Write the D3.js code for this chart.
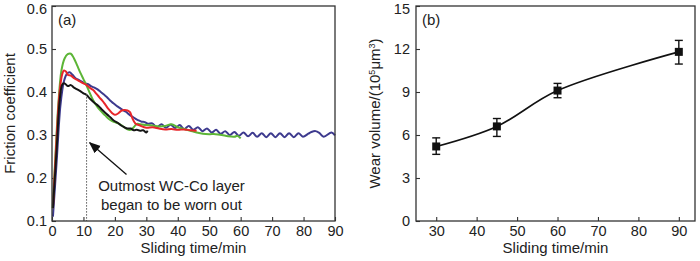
<!DOCTYPE html>
<html>
<head>
<meta charset="utf-8">
<script src="https://cdn.jsdelivr.net/npm/d3@7"></script>
<style>
  html, body { margin: 0; padding: 0; background: #fff; }
  svg { display: block; font-family: "Liberation Sans", Arial, sans-serif; }
</style>
</head>
<body>
<svg id="chart" width="700" height="261"></svg>
<script>
// ---------- Panel (a): friction coefficient vs sliding time ----------
const blackT = [0.3,1.5,2.5,3.3,4,5,6,7,8,9,10,11,12,13,14,15,16,17,18,19,20,21,22,23,24,25,26,27,28,29,30,30.4];
const blackV = [0.13,0.27,0.385,0.418,0.42,0.414,0.416,0.41,0.406,0.402,0.397,0.393,0.385,0.378,0.372,0.366,0.358,0.351,0.345,0.338,0.332,0.328,0.322,0.318,0.315,0.315,0.311,0.312,0.31,0.311,0.306,0.31];

const redT = [0.3,1.3,2.3,3.2,3.8,4.5,5,6,7,8,9,10,11,12,13,14,15,16,17,18,19,20,21,22,23,24,24.8,25.5,26.5,28,30,32,34,36,38,40,42,44,46];
const redV = [0.13,0.27,0.39,0.44,0.45,0.447,0.44,0.438,0.432,0.428,0.424,0.42,0.416,0.41,0.405,0.397,0.388,0.38,0.37,0.36,0.352,0.347,0.35,0.356,0.358,0.357,0.353,0.34,0.327,0.322,0.317,0.318,0.315,0.313,0.314,0.312,0.313,0.311,0.31];

const greenT = [0.2,1,2,3,4,5,6,7,8,9,10,11,12,13,14,15,16,17,18,19,20,21,22,23,24,25,26,27,28,30,32,34,36,38,40,42,44,46,48,50,52,54,56,58,59,60];
const greenV = [0.13,0.24,0.37,0.45,0.478,0.488,0.489,0.478,0.462,0.445,0.43,0.415,0.398,0.382,0.37,0.36,0.352,0.345,0.338,0.333,0.33,0.327,0.323,0.318,0.313,0.312,0.318,0.326,0.325,0.323,0.322,0.32,0.321,0.325,0.318,0.314,0.31,0.306,0.303,0.302,0.302,0.3,0.297,0.296,0.298,0.292];

const blueT = [0.3,1.5,2.7,3.8,4.8,5.6,6.5,7.5,8.5,9.5,10.5,11.5,12.5,13.5,14.5,15.5,16.5,17.5,18.5,19.5,20.5,21.5,22.5,23.5,24.5,25.5,26.5,27.5,28.5,29.5,30.5,
  31.9,33.35,34.8,36.25,37.7,39.15,40.6,42.05,43.5,44.95,46.4,47.85,49.3,50.75,52.2,53.65,55.1,56.55,58,59.45,60.9,62.35,63.8,65.25,66.7,68.15,69.6,71.05,72.5,73.95,75.4,76.9,78.4,79.8,81.5,82.5,83.8,85,86.4,88.9,90];
const blueV = [0.11,0.24,0.37,0.425,0.443,0.446,0.44,0.432,0.428,0.424,0.42,0.418,0.413,0.41,0.406,0.4,0.394,0.388,0.38,0.374,0.368,0.363,0.358,0.354,0.348,0.343,0.338,0.334,0.331,0.33,0.326,
  0.327,0.318,0.325,0.317,0.324,0.316,0.323,0.314,0.321,0.312,0.318,0.309,0.315,0.306,0.312,0.303,0.309,0.3,0.307,0.298,0.306,0.297,0.305,0.296,0.304,0.295,0.304,0.295,0.304,0.295,0.304,0.295,0.304,0.296,0.303,0.307,0.309,0.305,0.296,0.306,0.299];

const aXTicks = [0,10,20,30,40,50,60,70,80,90];
const aYTicks = [0.1,0.2,0.3,0.4,0.5,0.6];
const markerTime = 11;        // dotted line position (min)
const markerTop = 0.395;
const noteLines = ["Outmost WC-Co layer", "began to be worn out"];

// ---------- Panel (b): wear volume vs sliding time ----------
const wearTime = [30,45,60,90];
const wearVol = [5.2,6.6,9.1,11.8];
const wearLow = [4.65,5.9,8.6,10.95];
const wearHigh = [5.8,7.15,9.6,12.6];
const bXTicks = [30,40,50,60,70,80,90];
const bYTicks = [0,3,6,9,12,15];

const colors = { black: "#151515", red: "#e8262a", green: "#5cb536", blue: "#3d3a8e" };
const axisColor = "#333";
const textColor = "#222";
const FONT = "'Liberation Sans', Arial, sans-serif";

const svg = d3.select("#chart");

function styleAxis(g) {
  g.select(".domain").remove();
  g.selectAll(".tick line").attr("stroke", axisColor).attr("stroke-width", 1.1);
  g.selectAll(".tick text").attr("fill", textColor).style("font-size", "14.5px").style("font-family", FONT);
}
// keep the topmost y label inside the picture
function nudgeTop(g, topVal) {
  g.selectAll(".tick").filter(d => d === topVal).select("text").attr("dy", "0.5em");
}

// ===== Panel (a) =====
const ax = d3.scaleLinear().domain([0, 90]).range([52, 335]);
const ay = d3.scaleLinear().domain([0.1, 0.6]).range([221, 6]);

const gA = svg.append("g");
gA.append("g").attr("transform", "translate(0,221)")
  .call(d3.axisBottom(ax).tickValues(aXTicks).tickFormat(d3.format("d")).tickSizeInner(-4).tickSizeOuter(0).tickPadding(5))
  .call(styleAxis);
gA.append("g").attr("transform", "translate(52,0)")
  .call(d3.axisLeft(ay).tickValues(aYTicks).tickFormat(d3.format(".1f")).tickSizeInner(-4).tickSizeOuter(0).tickPadding(5))
  .call(styleAxis)
  .call(g => nudgeTop(g, 0.6));

const lineA = d3.line().x(d => ax(d[0])).y(d => ay(d[1])).curve(d3.curveCatmullRom.alpha(0.5));
function zipSeries(t, v) { return t.map((x, i) => [x, v[i]]); }

const seriesA = [
  { name: "blue", t: blueT, v: blueV },
  { name: "green", t: greenT, v: greenV },
  { name: "red", t: redT, v: redV },
  { name: "black", t: blackT, v: blackV }
];
gA.selectAll("path.series").data(seriesA).join("path")
  .attr("class", "series")
  .attr("d", d => lineA(zipSeries(d.t, d.v)))
  .attr("fill", "none")
  .attr("stroke", d => colors[d.name])
  .attr("stroke-width", 2)
  .attr("stroke-linejoin", "round");

// dotted marker line
gA.append("line")
  .attr("x1", ax(markerTime)).attr("x2", ax(markerTime))
  .attr("y1", ay(markerTop)).attr("y2", ay(0.1))
  .attr("stroke", "#555").attr("stroke-width", 1).attr("stroke-dasharray", "1.5,1.5");

// arrow
svg.append("defs").append("marker")
  .attr("id", "arrowhead").attr("viewBox", "0 0 10 10").attr("refX", 9).attr("refY", 5)
  .attr("markerWidth", 9).attr("markerHeight", 9).attr("orient", "auto-start-reverse")
  .append("path").attr("d", "M0,1 L10,5 L0,9 Z").attr("fill", "#111");
gA.append("line")
  .attr("x1", ax(23.7)).attr("y1", ay(0.208))
  .attr("x2", ax(12)).attr("y2", ay(0.282))
  .attr("stroke", "#111").attr("stroke-width", 1.3)
  .attr("marker-end", "url(#arrowhead)");

gA.selectAll("text.note").data(noteLines).join("text")
  .attr("class", "note")
  .attr("x", ax(38))
  .attr("y", (d, i) => ay(0.1) - 30 + i * 19)
  .attr("text-anchor", "middle")
  .attr("fill", textColor).style("font-size", "15px")
  .text(d => d);

// frame
gA.append("rect").attr("x", 52).attr("y", 6).attr("width", 283).attr("height", 215)
  .attr("fill", "none").attr("stroke", axisColor).attr("stroke-width", 1.3);

gA.append("text").attr("x", 58).attr("y", 25).attr("fill", textColor).style("font-size", "15px").text("(a)");

gA.append("text")
  .attr("transform", `translate(15,${(6 + 221) / 2}) rotate(-90)`)
  .attr("text-anchor", "middle").attr("fill", textColor).style("font-size", "15px")
  .text("Friction coefficient");
gA.append("text").attr("x", (52 + 335) / 2).attr("y", 253).attr("text-anchor", "middle")
  .attr("fill", textColor).style("font-size", "15px").text("Sliding time/min");

// ===== Panel (b) =====
const bx = d3.scaleLinear().domain([25, 94]).range([416, 695]);
const by = d3.scaleLinear().domain([0, 15]).range([221, 6]);

const gB = svg.append("g");
gB.append("g").attr("transform", "translate(0,221)")
  .call(d3.axisBottom(bx).tickValues(bXTicks).tickFormat(d3.format("d")).tickSizeInner(-4).tickSizeOuter(0).tickPadding(5))
  .call(styleAxis);
gB.append("g").attr("transform", "translate(416,0)")
  .call(d3.axisLeft(by).tickValues(bYTicks).tickFormat(d3.format("d")).tickSizeInner(-4).tickSizeOuter(0).tickPadding(6))
  .call(styleAxis)
  .call(g => nudgeTop(g, 15));

const wearPts = wearTime.map((t, i) => [t, wearVol[i]]);
gB.append("path")
  .attr("d", d3.line().x(d => bx(d[0])).y(d => by(d[1])).curve(d3.curveCatmullRom.alpha(0.5))(wearPts))
  .attr("fill", "none").attr("stroke", "#111").attr("stroke-width", 1.6);

const eb = gB.selectAll("g.eb").data(wearTime.map((t, i) => ({ t, v: wearVol[i], lo: wearLow[i], hi: wearHigh[i] })))
  .join("g").attr("class", "eb");
eb.append("line").attr("x1", d => bx(d.t)).attr("x2", d => bx(d.t)).attr("y1", d => by(d.lo)).attr("y2", d => by(d.hi))
  .attr("stroke", "#111").attr("stroke-width", 1.4);
eb.append("line").attr("x1", d => bx(d.t) - 4).attr("x2", d => bx(d.t) + 4).attr("y1", d => by(d.lo)).attr("y2", d => by(d.lo))
  .attr("stroke", "#111").attr("stroke-width", 1.4);
eb.append("line").attr("x1", d => bx(d.t) - 4).attr("x2", d => bx(d.t) + 4).attr("y1", d => by(d.hi)).attr("y2", d => by(d.hi))
  .attr("stroke", "#111").attr("stroke-width", 1.4);
eb.append("rect").attr("x", d => bx(d.t) - 4).attr("y", d => by(d.v) - 4).attr("width", 8).attr("height", 8)
  .attr("fill", "#111");

gB.append("rect").attr("x", 416).attr("y", 6).attr("width", 279).attr("height", 215)
  .attr("fill", "none").attr("stroke", axisColor).attr("stroke-width", 1.3);

gB.append("text").attr("x", 422).attr("y", 25).attr("fill", textColor).style("font-size", "15px").text("(b)");

const yt = gB.append("text")
  .attr("transform", `translate(380,${(6 + 221) / 2}) rotate(-90)`)
  .attr("text-anchor", "middle").attr("fill", textColor).style("font-size", "15px");
yt.append("tspan").text("Wear volume/(10");
yt.append("tspan").attr("baseline-shift", "super").style("font-size", "9px").text("5");
yt.append("tspan").text("μm");
yt.append("tspan").attr("baseline-shift", "super").style("font-size", "9px").text("3");
yt.append("tspan").text(")");

gB.append("text").attr("x", (416 + 695) / 2).attr("y", 253).attr("text-anchor", "middle")
  .attr("fill", textColor).style("font-size", "15px").text("Sliding time/min");
</script>
</body>
</html>
